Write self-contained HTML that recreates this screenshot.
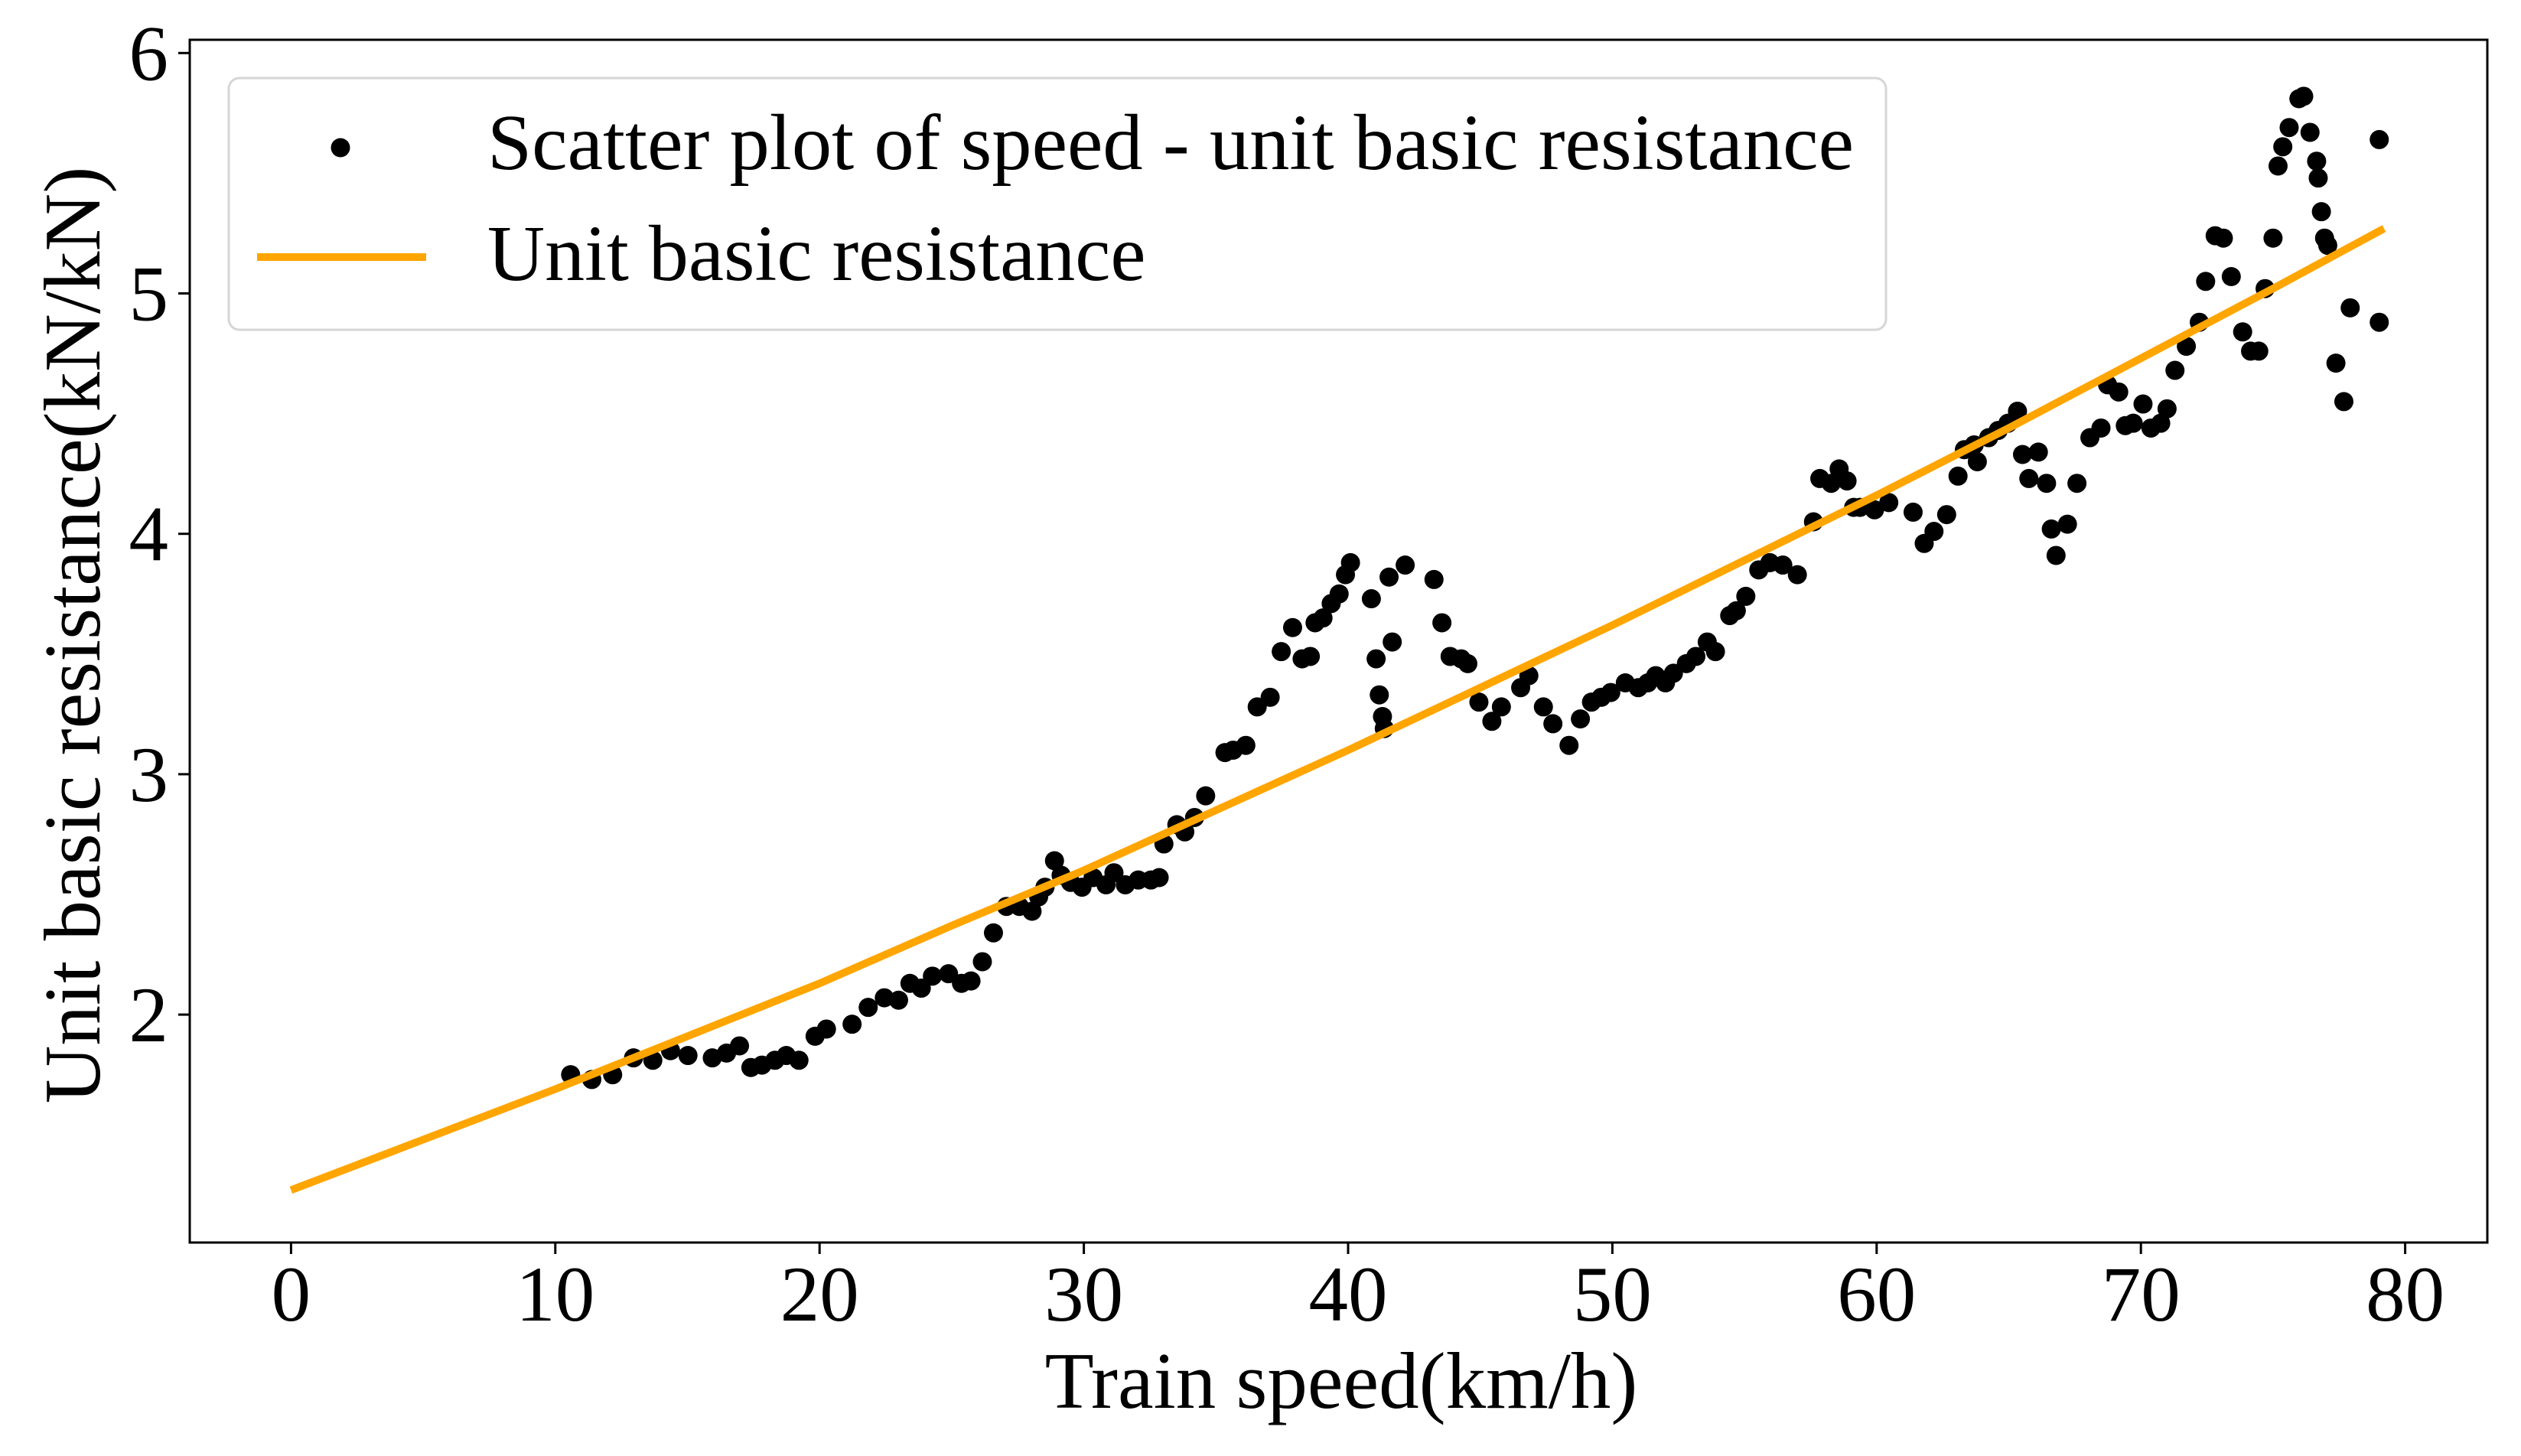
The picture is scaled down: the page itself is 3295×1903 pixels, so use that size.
<!DOCTYPE html>
<html><head><meta charset="utf-8"><style>
html,body{margin:0;padding:0;background:#fff;}
svg{display:block;font-family:"Liberation Serif",serif;}
</style></head><body>
<svg id="chart" width="3295" height="1903" viewBox="0 0 3295 1903" xmlns="http://www.w3.org/2000/svg">
<rect x="0" y="0" width="3295" height="1903" fill="#fff"/>
<g id="plot"></g>
<g id="axes"></g>
<g id="legend">
  <rect x="299" y="102" width="2166" height="329" rx="14" fill="#fff" fill-opacity="0.8" stroke="#d6d6d6" stroke-width="3"/>
  <circle cx="445" cy="193" r="12.5" fill="#000"/>
  <text x="637" y="221" font-size="104" textLength="1786" lengthAdjust="spacingAndGlyphs">Scatter plot of speed - unit basic resistance</text>
  <line x1="336" y1="336" x2="557" y2="336" stroke="#ffa500" stroke-width="10"/>
  <text x="637" y="366" font-size="104">Unit basic resistance</text>
</g>
<text x="1753" y="1840" font-size="105" text-anchor="middle">Train speed(km/h)</text>
<text transform="translate(130,830) rotate(-90)" font-size="105" text-anchor="middle">Unit basic resistance(kN/kN)</text>
</svg>
<script>
const speeds=[10.58,11.38,12.17,12.96,13.69,14.36,15.02,15.94,16.48,16.97,17.40,17.82,18.31,18.74,19.22,19.83,20.26,21.23,21.84,22.45,22.99,23.42,23.85,24.27,24.88,25.37,25.73,26.16,26.58,27.07,27.56,28.04,28.29,28.53,28.89,29.14,29.50,29.93,30.35,30.84,31.14,31.57,32.06,32.54,32.85,33.03,33.52,33.82,34.19,34.61,35.34,35.65,36.13,36.56,37.05,37.47,37.90,38.26,38.57,38.75,39.05,39.36,39.66,39.90,40.09,40.88,41.06,41.18,41.30,41.37,41.55,41.67,42.16,43.25,43.55,43.86,44.28,44.53,44.95,45.44,45.80,46.53,46.84,47.39,47.75,48.36,48.79,49.21,49.58,49.94,50.49,50.98,51.34,51.64,52.01,52.31,52.80,53.16,53.59,53.90,54.44,54.69,55.05,55.54,55.96,56.45,57.00,57.61,57.85,58.28,58.58,58.88,59.13,59.37,59.92,60.46,61.38,61.80,62.17,62.65,63.08,63.32,63.69,63.81,64.24,64.60,64.97,65.33,65.52,65.76,66.12,66.43,66.61,66.79,67.22,67.58,68.07,68.49,68.74,69.16,69.41,69.71,70.08,70.38,70.75,70.99,71.29,71.72,72.21,72.45,72.81,73.12,73.42,73.85,74.15,74.46,74.70,75.00,75.19,75.37,75.61,75.98,76.16,76.40,76.65,76.71,76.83,76.95,77.07,77.38,77.68,77.92,79.02,79.02];
const resistances=[1.75,1.73,1.75,1.82,1.81,1.85,1.83,1.82,1.84,1.87,1.78,1.79,1.81,1.83,1.81,1.91,1.94,1.96,2.03,2.07,2.06,2.13,2.11,2.16,2.17,2.13,2.14,2.22,2.34,2.45,2.45,2.43,2.49,2.53,2.64,2.58,2.55,2.53,2.57,2.54,2.59,2.54,2.56,2.56,2.57,2.71,2.79,2.76,2.82,2.91,3.09,3.10,3.12,3.28,3.32,3.51,3.61,3.48,3.49,3.63,3.65,3.71,3.75,3.83,3.88,3.73,3.48,3.33,3.24,3.19,3.82,3.55,3.87,3.81,3.63,3.49,3.48,3.46,3.30,3.22,3.28,3.36,3.41,3.28,3.21,3.12,3.23,3.30,3.32,3.34,3.38,3.36,3.38,3.41,3.38,3.42,3.46,3.49,3.55,3.51,3.66,3.68,3.74,3.85,3.88,3.87,3.83,4.05,4.23,4.21,4.27,4.22,4.11,4.11,4.10,4.13,4.09,3.96,4.01,4.08,4.24,4.35,4.37,4.30,4.40,4.43,4.46,4.51,4.33,4.23,4.34,4.21,4.02,3.91,4.04,4.21,4.40,4.44,4.62,4.59,4.45,4.46,4.54,4.44,4.46,4.52,4.68,4.78,4.88,5.05,5.24,5.23,5.07,4.84,4.76,4.76,5.02,5.23,5.53,5.61,5.69,5.81,5.82,5.67,5.55,5.48,5.34,5.23,5.20,4.71,4.55,4.94,5.64,4.88];
const fitSpeeds=[0,5,10,15,20,25,30,35,40,45,50,55,60,65,70,75,79.2];
const fitValues=[1.27,1.48,1.69,1.91,2.13,2.37,2.60,2.85,3.10,3.36,3.62,3.89,4.16,4.44,4.73,5.02,5.27];
const xTicks=[0,10,20,30,40,50,60,70,80];
const yTicks=[2,3,4,5,6];

const NS='http://www.w3.org/2000/svg';
const L=248,R=3251,T=52,B=1624;
function xs(v){return 380.4+v*34.54;}
function ys(v){return 69.3+(6-v)*314.2;}
const plot=document.getElementById('plot');
const axes=document.getElementById('axes');
function mk(tag,attrs,parent){const e=document.createElementNS(NS,tag);for(const k in attrs)e.setAttribute(k,attrs[k]);parent.appendChild(e);return e;}

speeds.forEach((s,i)=>{
  const c=mk('circle',{cx:xs(s),cy:ys(resistances[i]),r:12.5,fill:'#000'},plot);
  
  
});
let d='';
fitSpeeds.forEach((s,i)=>{d+=(i?'L':'M')+xs(s).toFixed(1)+' '+ys(fitValues[i]).toFixed(1);});
const fl=mk('path',{d:d,fill:'none',stroke:'#ffa500','stroke-width':10,'stroke-linejoin':'round'},plot);



const frame=mk('rect',{x:L,y:T,width:R-L,height:B-T,fill:'none',stroke:'#000','stroke-width':3},axes);


xTicks.forEach(v=>{
  const t=mk('line',{x1:xs(v),y1:B,x2:xs(v),y2:B+15,stroke:'#000','stroke-width':3},axes);
  
  
  const tx=mk('text',{x:xs(v),y:1726,'font-size':103,'text-anchor':'middle'},axes);
  tx.textContent=v;
  
  
});
yTicks.forEach(v=>{
  const t=mk('line',{x1:L-15,y1:ys(v),x2:L,y2:ys(v),stroke:'#000','stroke-width':3},axes);
  
  
  const tx=mk('text',{x:220,y:ys(v)+35,'font-size':103,'text-anchor':'end'},axes);
  tx.textContent=v;
  
  
});
</script>
</body></html>
